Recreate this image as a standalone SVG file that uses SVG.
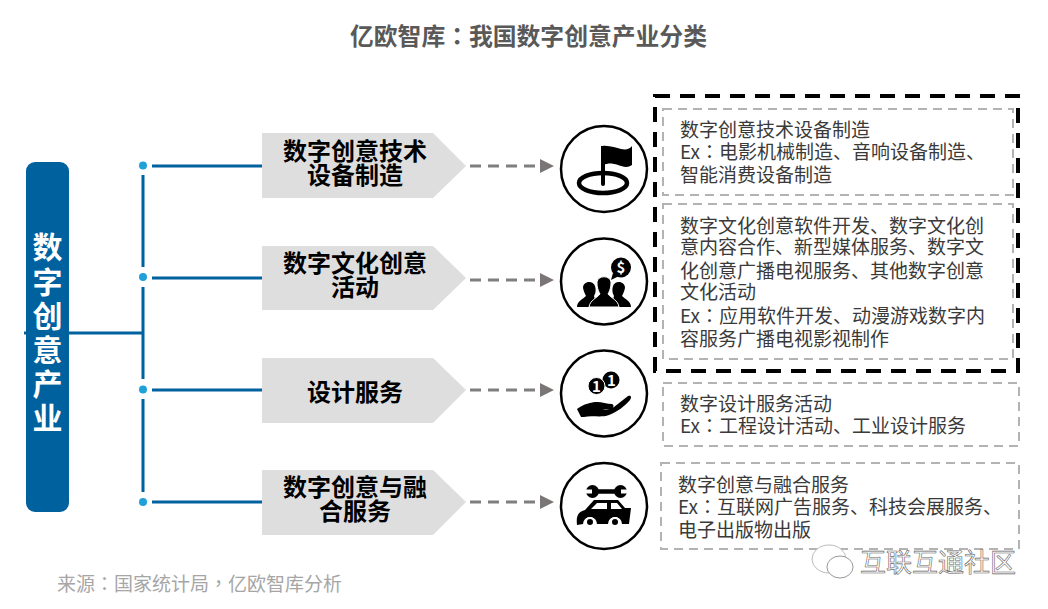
<svg xmlns="http://www.w3.org/2000/svg" width="1048" height="609" viewBox="0 0 1048 609">
<style>
text{font-family:"Noto Sans CJK SC","Noto Sans",sans-serif}
.p{font-family:"Noto Sans CJK TC","Noto Sans",sans-serif}
.title{font-size:23.800px;font-weight:700;fill:#595959}
.lab{font-size:24px;font-weight:700;fill:#000;text-anchor:middle}
.body{font-size:19px;fill:#3a3a3a;font-weight:400}
.side{font-size:30px;font-weight:700;fill:#fff;text-anchor:middle}
.src{font-size:19px;fill:#a6a6a6;font-weight:400}
.wm{font-size:26px;fill:#fff;stroke:#666;stroke-width:.6px}
.pent{fill:#dedede}
.blue{stroke:#00619f;stroke-width:3;fill:none}
.dot{fill:#1fa0d8}
.arr{stroke:#7f7f7f;stroke-width:3;stroke-dasharray:11 7;fill:none}
.head{fill:#7a7676}
.ring{fill:#fff;stroke:#000;stroke-width:2.500}
.box{fill:none;stroke:#b3b3b3;stroke-width:2;stroke-dasharray:9 6}
.big{fill:none;stroke:#000;stroke-width:4;stroke-dasharray:15 10}
</style>
<text class="title" x="350" y="45">亿欧智库<tspan class="p">&#xFF1A;</tspan>我国数字创意产业分类</text>
<g id="connectors">
<path class="blue" d="M24 333H143M143 175V267M143 287V379M143 399V492M152 166H262M152 278H262M152 390H262M152 502H262"/>
<circle class="dot" cx="143" cy="165.500" r="4"/><circle class="dot" cx="143" cy="277" r="4"/><circle class="dot" cx="143" cy="389.500" r="4"/><circle class="dot" cx="143" cy="502" r="4"/>
<path class="arr" d="M470 166H541M470 280H541M470 390H541M470 502H541"/>
<path class="head" d="M540 159L554 166L540 173ZM540 273L554 280L540 287ZM540 383L554 390L540 397ZM540 495L554 502L540 509Z"/>
</g>
<g id="root"><rect x="26" y="162" width="43" height="350" rx="9" fill="#00619f"/>
<text class="side" x="47.500" y="258">数<tspan x="47.500" y="293">字</tspan><tspan x="47.500" y="327">创</tspan><tspan x="47.500" y="361">意</tspan><tspan x="47.500" y="395">产</tspan><tspan x="47.500" y="429">业</tspan></text></g>
<g id="cat1"><path class="pent" d="M262 133H433L466 166L433 198H262Z"/><text class="lab" x="355" y="160">数字创意技术<tspan x="355" y="184">设备制造</tspan></text></g>
<g id="cat2"><path class="pent" d="M262 246H433L466 278L433 310H262Z"/><text class="lab" x="355" y="272">数字文化创意<tspan x="355" y="296">活动</tspan></text></g>
<g id="cat3"><path class="pent" d="M262 358H433L466 390L433 423H262Z"/><text class="lab" x="355" y="401">设计服务</text></g>
<g id="cat4"><path class="pent" d="M262 470H433L466 502L433 535H262Z"/><text class="lab" x="355" y="496">数字创意与融<tspan x="355" y="520">合服务</tspan></text></g>
<g id="icon1"><circle class="ring" cx="604" cy="169" r="43"/>
<ellipse cx="603" cy="183" rx="24" ry="10" fill="none" stroke="#000" stroke-width="4.500"/>
<path d="M601 146H605V184A2 2 0 0 1 601 184Z" fill="#000"/><path d="M602 146C609 145 616 148 621 149C626 150 630 149 632 146V165C628 168 623 167 618 165C612 163 608 163 603 165Z" fill="#000"/></g>
<g id="icon2"><circle class="ring" cx="604" cy="281.500" r="43"/>
<circle cx="621" cy="267.500" r="10" fill="#000"/><path d="M613 273L611 280L619 276Z" fill="#000"/>
<text x="621" y="273" font-size="15" font-weight="700" fill="#fff" text-anchor="middle">$</text>
<path d="M577 307C577 301 583 299 586 296C584 292 583 289 583 287C584 281 593 280 595 286C596 289 596 293 594 296L597 307Z" fill="#000"/>
<path d="M631 307C631 301 625 299 622 296C624 292 625 289 625 287C624 281 615 280 613 286C612 289 612 293 614 296L611 307Z" fill="#000"/>
<path d="M589 307C590 300 597 298 600 294C597 289 597 284 597 282C598 275 610 275 611 282C611 284 611 289 608 294C611 298 618 300 619 307Z" fill="#000" stroke="#fff" stroke-width="1"/></g>
<g id="icon3"><circle class="ring" cx="604" cy="393.500" r="43"/>
<circle cx="611" cy="380" r="8.500" fill="#000"/><circle cx="596.500" cy="386" r="8.500" fill="#000" stroke="#fff" stroke-width="1"/>
<text x="596.500" y="391.500" font-size="15" font-weight="700" fill="#fff" text-anchor="middle">1</text><text x="611.500" y="385.500" font-size="15" font-weight="700" fill="#fff" text-anchor="middle">1</text>
<path d="M577 409C584 404 591 402 597 402C602 402 607 404 612 404C615 405 613 409 610 409H602C607 410 611 409 614 407L628 396C631 395 632 397 630 400C625 406 617 412 609 415C601 418 592 415 584 417L581 417Z" fill="#000"/></g>
<g id="icon4"><circle class="ring" cx="604" cy="506" r="43"/>
<path d="M592 491.500H618" stroke="#000" stroke-width="4.500"/>
<circle cx="592.500" cy="491.500" r="6.500" fill="#000"/><circle cx="620.500" cy="491.500" r="6.500" fill="#000"/>
<path d="M584 489.500H592V493.500H584ZM621 489.500H629V493.500H621Z" fill="#fff"/>
<path d="M577 525C576 516 578 512 585 510L594 500H618L625 508L631 508L629 524L622 524A7 7 0 0 0 608 524H597A7 7 0 0 0 583 524Z" fill="#000"/>
<path d="M591 509L597 503H607V509ZM611 503H617L622 509H611Z" fill="#fff"/>
<circle cx="590" cy="522" r="4" fill="#000" stroke="#fff" stroke-width="2"/><circle cx="615" cy="522" r="4" fill="#000" stroke="#fff" stroke-width="2"/></g>
<rect class="big" x="655" y="96" width="363" height="275"/>
<g id="desc1"><rect class="box" x="663" y="109" width="350" height="86"/>
<text class="body" x="680" y="137">数字创意技术设备制造<tspan x="680" y="159">Ex<tspan class="p">&#xFF1A;</tspan>电影机械制造、音响设备制造、</tspan><tspan x="680" y="182">智能消费设备制造</tspan></text></g>
<g id="desc2"><rect class="box" x="663" y="204" width="350" height="155"/>
<text class="body" x="680" y="233">数字文化创意软件开发、数字文化创<tspan x="680" y="254">意内容合作、新型媒体服务、数字文</tspan><tspan x="680" y="278">化创意广播电视服务、其他数字创意</tspan><tspan x="680" y="299">文化活动</tspan><tspan x="680" y="323">Ex<tspan class="p">&#xFF1A;</tspan>应用软件开发、动漫游戏数字内</tspan><tspan x="680" y="346">容服务广播电视影视制作</tspan></text></g>
<g id="desc3"><rect class="box" x="663" y="383" width="356" height="63"/>
<text class="body" x="680" y="411">数字设计服务活动<tspan x="680" y="433">Ex<tspan class="p">&#xFF1A;</tspan>工程设计活动、工业设计服务</tspan></text></g>
<g id="desc4"><rect class="box" x="661" y="463" width="358" height="86"/>
<text class="body" x="678" y="492">数字创意与融合服务<tspan x="678" y="514">Ex<tspan class="p">&#xFF1A;</tspan>互联网广告服务、科技会展服务、</tspan><tspan x="678" y="537">电子出版物出版</tspan></text></g>
<text class="src" x="57" y="591">来源<tspan class="p">&#xFF1A;</tspan>国家统计局<tspan class="p">&#xFF0C;</tspan>亿欧智库分析</text>
<g id="watermark"><ellipse cx="829" cy="559" rx="17" ry="14" fill="#fff" stroke="#bbb"/><ellipse cx="840" cy="567" rx="13" ry="11" fill="#fff" stroke="#999"/>
<text class="wm" x="860" y="572">互联互通社区</text></g>
</svg>
